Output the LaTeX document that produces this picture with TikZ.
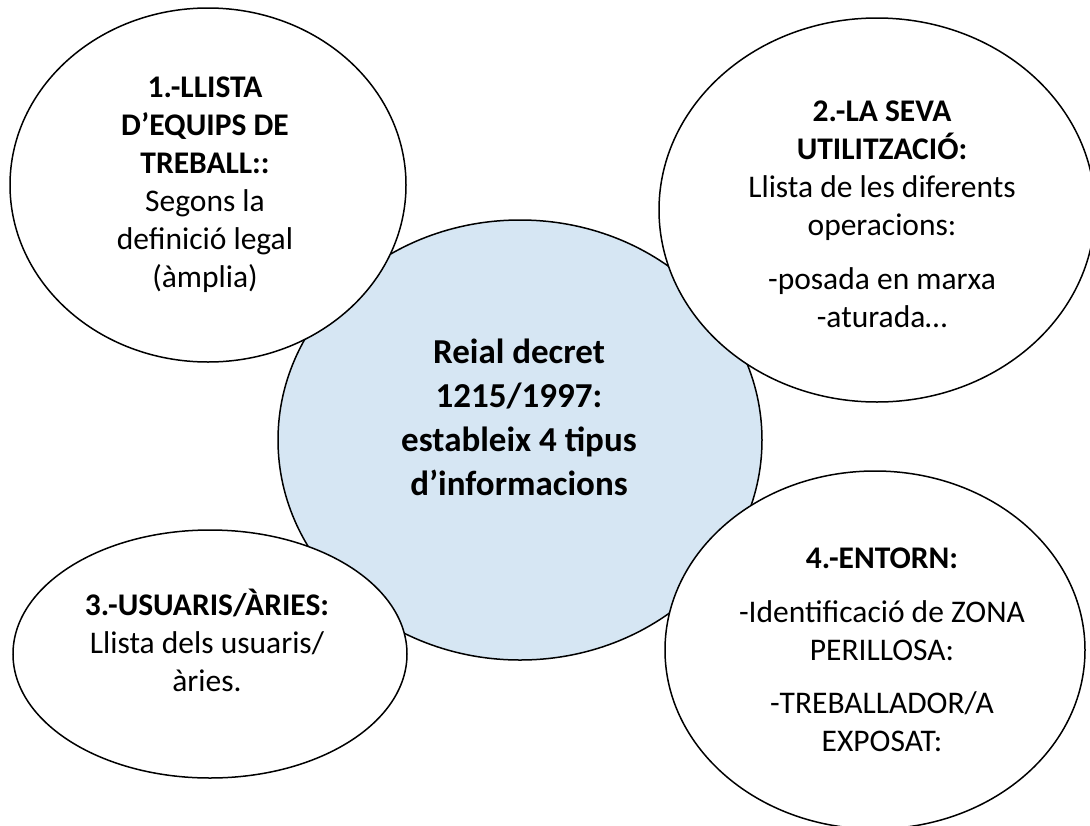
\documentclass[tikz,border=0pt]{standalone}
\usepackage{fontspec}
\setmainfont{Carlito}
\usetikzlibrary{shapes.geometric}
\definecolor{centerblue}{RGB}{214,230,243}
\newcommand\tsat{\rule{0pt}{26pt}}
\newcommand\tcen{\rule{0pt}{28pt}}
\begin{document}
\begin{tikzpicture}[x=1pt,y=-1pt,
  blob/.style={ellipse, draw=black, line width=1.5pt, fill=white, inner sep=0pt},
  txt/.style={align=center, inner sep=0pt, anchor=north, font=\fontsize{31.5}{38}\selectfont},
  ctxt/.style={align=center, inner sep=0pt, anchor=north, font=\bfseries\fontsize{35}{44}\selectfont}]
\clip (0,0) rectangle (1090,825);
\fill[white] (0,0) rectangle (1090,825);
% central ellipse
\node[blob, fill=centerblue, minimum width=484pt, minimum height=440pt] (c) at (520,440) {};
% satellites
\node[blob, minimum width=396pt, minimum height=354pt] (e1) at (208,185) {};
\node[blob, minimum width=436pt, minimum height=384pt] (e2) at (877,210) {};
\node[blob, minimum width=394pt, minimum height=248pt] (e3) at (210,654) {};
\node[blob, minimum width=420pt, minimum height=358pt] (e4) at (875,650) {};
% texts
\node[ctxt] (tc) at (519,335) {\tcen Reial decret\\1215/1997:\\estableix 4 tipus\\d’informacions};
\node[txt] (t1) at (205,71) {\tsat\textbf{1.-LLISTA}\\\textbf{D’EQUIPS DE}\\\textbf{TREBALL::}\\Segons la\\definició legal\\(àmplia)};
\node[txt] (t2) at (882,95) {\tsat\textbf{2.-LA SEVA}\\\textbf{UTILITZACIÓ:}\\Llista de les diferents\\operacions:\\[16pt]-posada en marxa\\-aturada…};
\node[txt] (t3) at (207,589) {\tsat\textbf{3.-USUARIS/ÀRIES:}\\Llista dels usuaris/\\àries.};
\node[txt] (t4) at (882,542) {\tsat\textbf{4.-ENTORN:}\\[16pt]-Identificació de ZONA\\PERILLOSA:\\[15pt]-TREBALLADOR/A\\EXPOSAT:};
\end{tikzpicture}
\end{document}
